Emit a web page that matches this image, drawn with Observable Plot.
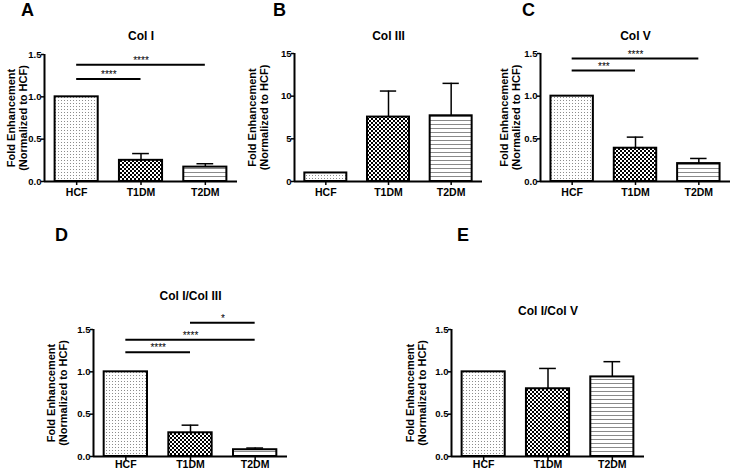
<!DOCTYPE html>
<html>
<head>
<meta charset="utf-8">
<script src="https://cdn.jsdelivr.net/npm/d3@7"></script>
<script src="https://cdn.jsdelivr.net/npm/@observablehq/plot@0.6"></script>
<style>
  html, body { margin: 0; padding: 0; background: #fff; }
  #fig { position: relative; width: 733px; height: 470px; background: #fff; overflow: hidden;
         font-family: Arial, "Liberation Sans", sans-serif; }
  .letter { position: absolute; font-size: 18px; font-weight: bold; line-height: 1; color: #000; }
</style>
</head>
<body>
<svg width="0" height="0" style="position:absolute">
  <defs>
    <pattern id="pDots" width="3" height="3" patternUnits="userSpaceOnUse">
      <rect width="3" height="3" fill="#fff"/>
      <rect x="1" y="1" width="1" height="1" fill="#8c8c8c"/>
    </pattern>
    <pattern id="pCheck" width="4" height="4" patternUnits="userSpaceOnUse">
      <rect width="4" height="4" fill="#fff"/>
      <rect width="2" height="2" fill="#000"/>
      <rect x="2" y="2" width="2" height="2" fill="#000"/>
    </pattern>
    <pattern id="pLines" width="4" height="4" patternUnits="userSpaceOnUse">
      <rect width="4" height="4" fill="#fff"/>
      <rect y="0" width="4" height="1" fill="#8a8a8a"/>
    </pattern>
  </defs>
</svg>
<div id="fig"></div>
<script>
// ---------- data ----------
const categories = ["HCF", "T1DM", "T2DM"];
const panelLetters = ["A", "B", "C", "D", "E"];
const panelTitles = ["Col I", "Col III", "Col V", "Col I/Col III", "Col I/Col V"];
const yAxisLabel = "Fold Enhancement\n(Normalized to HCF)";

const colIMean = [1.0, 0.25, 0.17];
const colIErr = [0, 0.08, 0.04];
const colIIIMean = [1.0, 7.55, 7.7];
const colIIIErr = [0, 3.05, 3.8];
const colVMean = [1.0, 0.39, 0.21];
const colVErr = [0, 0.13, 0.06];
const ratioI_IIIMean = [1.0, 0.28, 0.08];
const ratioI_IIIErr = [0, 0.09, 0.02];
const ratioI_VMean = [1.0, 0.80, 0.94];
const ratioI_VErr = [0, 0.24, 0.18];

const ticksFraction = [0, 0.5, 1.0, 1.5];
const ticksFractionLabels = ["0.0", "0.5", "1.0", "1.5"];
const ticksColIII = [0, 5, 10, 15];
const ticksColIIILabels = ["0", "5", "10", "15"];

const sigColI = [
  {from: "HCF", to: "T1DM", y: 1.21, label: "****"},
  {from: "HCF", to: "T2DM", y: 1.38, label: "****"}
];
const sigColV = [
  {from: "HCF", to: "T1DM", y: 1.30, label: "***"},
  {from: "HCF", to: "T2DM", y: 1.44, label: "****"}
];
const sigRatioI_III = [
  {from: "HCF", to: "T1DM", y: 1.23, label: "****"},
  {from: "HCF", to: "T2DM", y: 1.38, label: "****"},
  {from: "T1DM", to: "T2DM", y: 1.58, label: "*"}
];
const sigRatioI_V = [];
const sigColIII = [];

const patternFills = ["url(#pDots)", "url(#pCheck)", "url(#pLines)"];

// ---------- drawing ----------
const fig = document.getElementById("fig");

function drawPanel(cfg) {
  const rows = categories.map((c, i) => ({cat: c, i, mean: cfg.mean[i], err: cfg.err[i]}));
  const errRows = rows.filter(d => d.err > 0);
  const sig = cfg.sig.map(s => ({...s, a: categories.indexOf(s.from), b: categories.indexOf(s.to)}));
  const yMax = cfg.ticks[cfg.ticks.length - 1];
  const svg = Plot.plot({
    width: cfg.w,
    height: cfg.h,
    marginLeft: cfg.mL,
    marginRight: cfg.mR,
    marginTop: cfg.mT,
    marginBottom: cfg.mB,
    style: {
      position: "absolute", left: cfg.left + "px", top: cfg.top + "px",
      background: "transparent", overflow: "visible",
      fontFamily: "Arial, 'Liberation Sans', sans-serif",
      fontSize: "10.5px", fontWeight: "bold", color: "#000"
    },
    x: {domain: [-0.5, 2.5], ticks: [0, 1, 2], tickFormat: i => categories[i], tickSize: 4,
        tickPadding: cfg.xPad, label: null},
    y: {domain: [0, yMax], ticks: cfg.ticks, tickFormat: v => cfg.tickLabels[cfg.ticks.indexOf(v)],
        tickSize: 3, tickPadding: 0, label: null},
    color: {type: "identity"},
    marks: [
      Plot.rect(rows, {x1: d => d.i - 0.335, x2: d => d.i + 0.335, y1: 0, y2: "mean",
        fill: d => patternFills[d.i], stroke: "#000", strokeWidth: 2}),
      Plot.ruleX(errRows, {x: "i", y1: "mean", y2: d => d.mean + d.err, stroke: "#000", strokeWidth: 1.5}),
      Plot.ruleY(errRows, {y: d => d.mean + d.err, x1: d => d.i - 0.13, x2: d => d.i + 0.13, stroke: "#000", strokeWidth: 1.5}),
      Plot.ruleX([-0.5], {y1: 0, y2: yMax, stroke: "#000", strokeWidth: 2}),
      Plot.ruleY([0], {stroke: "#000", strokeWidth: 2}),
      Plot.ruleY(sig, {y: "y", x1: "a", x2: "b", stroke: "#000", strokeWidth: 2}),
      Plot.text(sig, {x: d => (d.a + d.b) / 2, y: "y", text: "label", lineAnchor: "bottom", dy: -1,
        fontSize: 10, fontWeight: "normal", fill: "#000"}),
      Plot.text([cfg.title], {text: d => d, frameAnchor: "top", lineAnchor: "bottom", dy: cfg.titleDy,
        fontSize: 12, fontWeight: "bold", fill: "#000"}),
      Plot.text([yAxisLabel], {text: d => d, frameAnchor: "left", textAnchor: "middle", rotate: -90, dx: cfg.labelDx,
        fontSize: 11, lineHeight: 1.1, fontWeight: "bold", fill: "#000"})
    ]
  });
  // slightly smaller y tick labels, as in the reference
  d3.select(svg).selectAll('g[aria-label^="y-axis"] text').style("font-size", "9.5px");
  d3.select(svg).selectAll('g[aria-label^="x-axis"] text').style("font-size", "10.5px");
  d3.select(svg).selectAll('g[aria-label^="y-axis"] line, g[aria-label^="y-axis"] path, g[aria-label^="x-axis"] line, g[aria-label^="x-axis"] path')
    .style("stroke-width", "1.5px");
  fig.appendChild(svg);
}

const panels = [
  {left: 0, top: 0, w: 245, h: 215, mL: 44, mR: 8, mT: 54, mB: 34, titleDy: -15, labelDx: -27, xPad: 3,
   mean: colIMean, err: colIErr, sig: sigColI, ticks: ticksFraction, tickLabels: ticksFractionLabels, title: panelTitles[0]},
  {left: 245, top: 0, w: 245, h: 215, mL: 49, mR: 8, mT: 53, mB: 34, titleDy: -14, labelDx: -36, xPad: 3,
   mean: colIIIMean, err: colIIIErr, sig: sigColIII, ticks: ticksColIII, tickLabels: ticksColIIILabels, title: panelTitles[1]},
  {left: 490, top: 0, w: 243, h: 215, mL: 50, mR: 3, mT: 53, mB: 34, titleDy: -14, labelDx: -30, xPad: 3,
   mean: colVMean, err: colVErr, sig: sigColV, ticks: ticksFraction, tickLabels: ticksFractionLabels, title: panelTitles[2]},
  {left: 0, top: 215, w: 300, h: 255, mL: 93, mR: 13, mT: 114, mB: 14, titleDy: -29.5, labelDx: -36, xPad: 0,
   mean: ratioI_IIIMean, err: ratioI_IIIErr, sig: sigRatioI_III, ticks: ticksFraction, tickLabels: ticksFractionLabels, title: panelTitles[3]},
  {left: 300, top: 215, w: 433, h: 255, mL: 151, mR: 89, mT: 114, mB: 14, titleDy: -14.5, labelDx: -35, xPad: 0,
   mean: ratioI_VMean, err: ratioI_VErr, sig: sigRatioI_V, ticks: ticksFraction, tickLabels: ticksFractionLabels, title: panelTitles[4]}
];
panels.forEach(drawPanel);

const letterPos = [[21, 1], [273, 1], [522, 1], [55, 226], [457, 226]];
panelLetters.forEach((t, k) => {
  const d = document.createElement("div");
  d.className = "letter";
  d.textContent = t;
  d.style.left = letterPos[k][0] + "px";
  d.style.top = letterPos[k][1] + "px";
  fig.appendChild(d);
});
</script>
</body>
</html>
